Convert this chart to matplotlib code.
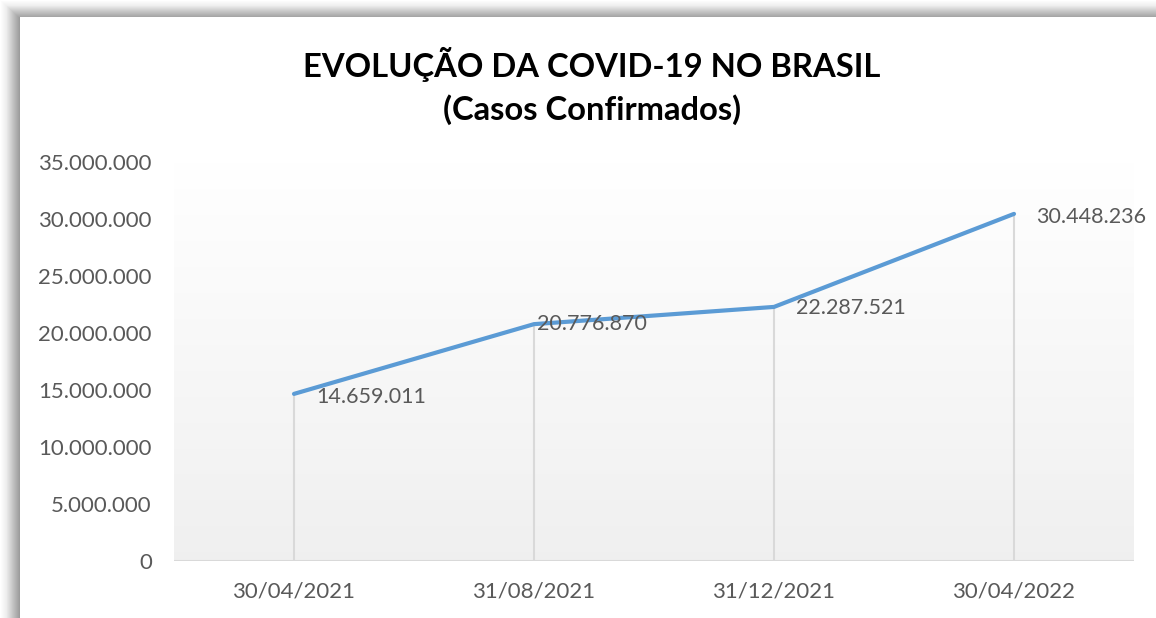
"""Line chart: COVID-19 confirmed cases in Brazil."""

import numpy as np
import matplotlib
matplotlib.use("Agg")
import matplotlib.pyplot as plt
from matplotlib.ticker import FuncFormatter

dates = ["30/04/2021", "31/08/2021", "31/12/2021", "30/04/2022"]
cases = [14659011, 20776870, 22287521, 30448236]
label_offsets = [(16, -2), (2, 0), (16, -1), (16, -2)]  # points, right of each marker
title = "EVOLUÇÃO DA COVID-19 NO BRASIL\n(Casos Confirmados)"

plt.rcParams["font.family"] = ["Lato", "DejaVu Sans"]
W, H = 1156, 618
fig = plt.figure(figsize=(W / 100, H / 100), dpi=100)

# background with the grey frame shadow on the left and top
bg = fig.add_axes([0, 0, 1, 1], zorder=-10)
xs = np.arange(W, dtype=float)
ys = np.arange(H, dtype=float)
dark_left = np.where(xs < 20, np.interp(xs, [0, 6, 12, 19.5], [0.0, 0.07, 0.22, 0.40]), 0.0)
dark_top = np.where(ys < 17, np.interp(ys, [0, 5, 10, 16.5], [0.0, 0.06, 0.20, 0.36]), 0.0)
DL, DT = np.meshgrid(dark_left, dark_top)
corner = (xs[None, :] < 20) & (ys[:, None] < 17)
dark = np.where(corner, np.minimum(DL, DT), np.maximum(DL, DT))
shade = 1.0 - dark
img = np.dstack([shade, shade, shade])
bg.imshow(img, extent=(0, 1, 0, 1), aspect="auto", interpolation="nearest")
bg.set_axis_off()

ax = fig.add_axes([174 / W, 1 - 561 / H, 960 / W, 399 / H])
x = np.arange(len(dates))
ax.set_xlim(-0.5, len(dates) - 0.5)
ax.set_ylim(0, 35_000_000)

grad = np.linspace(1.0, 0.94, 256)[:, None]
ax.imshow(np.dstack([grad, grad, grad]), extent=(-0.5, len(dates) - 0.5, 0, 35_000_000),
          aspect="auto", zorder=0, interpolation="bilinear")

ax.vlines(x, 0, cases, color="#d9d9d9", linewidth=1.5, zorder=1)
ax.axhline(0, color="#d9d9d9", linewidth=1.5, zorder=1)
ax.plot(x, cases, color="#5b9bd5", linewidth=3, solid_capstyle="round", zorder=3)

for xi, v, off in zip(x, cases, label_offsets):
    ax.annotate(f"{v:,}".replace(",", "."), (xi, v), xytext=off, textcoords="offset points",
                ha="left", va="center", fontsize=15.5, color="#595959", zorder=4)

ax.set_xticks(x, dates)
ax.set_yticks(np.arange(0, 35_000_001, 5_000_000))
ax.yaxis.set_major_formatter(FuncFormatter(lambda v, _: f"{int(v):,}".replace(",", ".")))
ax.tick_params(axis="both", length=0, labelsize=16, labelcolor="#595959")
ax.tick_params(axis="y", pad=16)
ax.tick_params(axis="x", pad=15)
for s in ax.spines.values():
    s.set_visible(False)

fig.text(592 / W, 1 - 86 / H, title, ha="center", va="center", fontsize=23.6,
         fontweight="bold", color="black", linespacing=1.45)

fig.savefig("out.png", dpi=100)
